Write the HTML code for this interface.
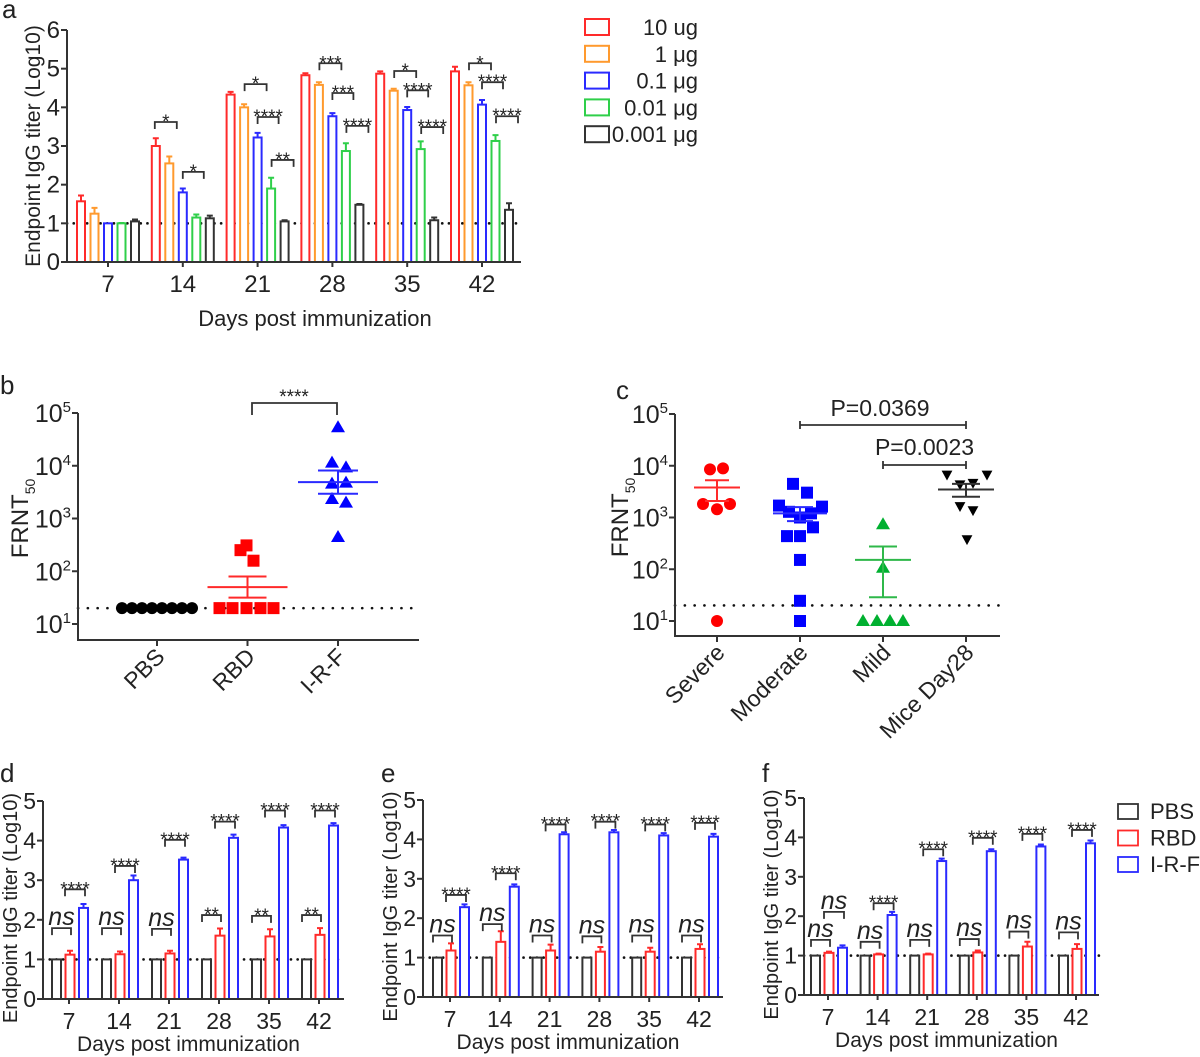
<!DOCTYPE html>
<html><head><meta charset="utf-8">
<style>
html,body{margin:0;padding:0;background:#fff;}
svg{display:block;font-family:"Liberation Sans",Arial,sans-serif;}
</style></head>
<body>
<svg id="fig" width="1200" height="1057" viewBox="0 0 1200 1057"></svg>
<script>
// ---------- Panel a data ----------
const aDays=['7','14','21','28','35','42'];
const aLabels=['10 ug','1 μg','0.1 μg','0.01 μg','0.001 μg'];
const aColors=['#ff2a2a','#ff9a2e','#2a2aff','#2fcf4a','#333333'];
const a10ug=[1.57,3.0,4.33,4.83,4.87,4.93];
const a1ug=[1.25,2.55,4.0,4.58,4.43,4.57];
const a01ug=[1.0,1.8,3.22,3.77,3.93,4.07];
const a001ug=[1.0,1.15,1.9,2.87,2.92,3.13];
const a0001ug=[1.05,1.13,1.05,1.48,1.08,1.35];
const a10ugErr=[0.15,0.2,0.07,0.05,0.06,0.12];
const a1ugErr=[0.15,0.18,0.08,0.07,0.05,0.08];
const a01ugErr=[0,0.1,0.12,0.08,0.08,0.12];
const a001ugErr=[0.01,0.08,0.28,0.2,0.2,0.15];
const a0001ugErr=[0.05,0.07,0.03,0.02,0.07,0.17];
const aYTicks=['0','1','2','3','4','5','6'];
const aBrGroup=[1,1,2,2,2,3,3,3,4,4,4,5,5,5];
const aBrY=[3.62,2.33,4.6,3.75,2.64,5.14,4.37,3.52,4.94,4.44,3.49,5.14,4.65,3.77];
const aBrLabel=['*','*','*','****','**','***','***','****','*','****','****','*','****','****'];
const aBrSlot=[0,2,1,2,3,1,2,3,1,2,3,1,2,3];

// ---------- Panels d,e,f data ----------
const dfDays=['7','14','21','28','35','42'];
const dfNames=['PBS','RBD','I-R-F'];
const dfColors=['#333333','#ff2a2a','#2a2aff'];
const dPBS=[1,1,1,1,1,1];
const dRBD=[1.12,1.13,1.15,1.6,1.58,1.62];
const dRBDErr=[0.1,0.07,0.07,0.18,0.18,0.17];
const dIRF=[2.3,3.0,3.52,4.07,4.33,4.38];
const dIRFErr=[0.1,0.12,0.05,0.08,0.06,0.06];
const dBr1Y=[1.79,1.79,1.77,2.12,2.1,2.12];
const dBr1Label=['ns','ns','ns','**','**','**'];
const dBr2Y=[2.77,3.36,4.02,4.48,4.76,4.76];
const dBr2Label=['****','****','****','****','****','****'];

const ePBS=[1,1,1,1,1,1];
const eRBD=[1.18,1.4,1.18,1.15,1.15,1.22];
const eRBDErr=[0.18,0.27,0.15,0.12,0.1,0.12];
const eIRF=[2.28,2.8,4.13,4.18,4.1,4.07];
const eIRFErr=[0.07,0.06,0.05,0.06,0.06,0.07];
const eBr1Y=[1.56,1.85,1.56,1.54,1.56,1.56];
const eBr1Label=['ns','ns','ns','ns','ns','ns'];
const eBr2Y=[2.59,3.14,4.38,4.45,4.38,4.42];
const eBr2Label=['****','****','****','****','****','****'];

const fPBS=[1,1,1,1,1,1];
const fRBD=[1.07,1.03,1.03,1.08,1.23,1.17];
const fRBDErr=[0.03,0.02,0.02,0.05,0.12,0.12];
const fIRF=[1.2,2.03,3.4,3.65,3.77,3.85];
const fIRFErr=[0.06,0.08,0.06,0.05,0.05,0.07];
const fBr1Y=[1.4,1.35,1.4,1.42,1.61,1.59];
const fBr1Label=['ns','ns','ns','ns','ns','ns'];
const fBr2Y=[2.11,2.33,3.7,3.99,4.09,4.19];
const fBr2Label=['ns','****','****','****','****','****'];
const dfYTicks=['0','1','2','3','4','5'];

// ---------- Panel b data (log10 FRNT50) ----------
const bCats=['PBS','RBD','I-R-F'];
const bPBS=[1.301,1.301,1.301,1.301,1.301,1.301,1.301,1.301];
const bRBD=[1.301,1.301,1.301,1.301,1.301,2.40,2.49,2.20];
const bIRF=[4.73,4.06,3.97,3.66,3.68,3.37,3.30,2.65];
const bRBDMean=[1.70,1.50,1.90];
const bIRFMean=[3.69,3.47,3.91];
const logTicks=['1','2','3','4','5'];

// ---------- Panel c data ----------
const cCats=['Severe','Moderate','Mild','Mice Day28'];
const cSevere=[3.93,3.95,3.26,3.26,3.16,1.0];
const cModerate=[3.65,3.48,3.23,3.21,3.11,3.08,3.00,2.64,2.64,2.81,2.18,1.39,1.0];
const cMild=[2.87,2.03,1.0,1.0,1.0,1.0];
const cMice=[3.82,3.63,3.66,3.82,3.21,3.13,2.57];
const cSevereMean=[3.58,3.32,3.72];
const cModerateMean=[3.08,2.93,3.20];
const cMildMean=[2.18,1.46,2.44];
const cMiceMean=[3.54,3.40,3.65];
const cPvals=['P=0.0369','P=0.0023'];

const bPBSdx=[-35,-25,-15,-5,5,15,25,35];
const bRBDdx=[-28,-15,-1,13,26,-7,-1,6];
const bIRFdx=[0,-6,8,-6,8,-6,8,0];
const cSevDx=[-7,6,-14,13,0,0];
const cModDx=[-7,7,-21,22,-11,11,0,-13,0,13,0,0,0];
const cMildDx=[0,0,-20,-6,7,20];
const cMiceDx=[-19,-6,7,21,-6,7,1];

const NS='http://www.w3.org/2000/svg';
const svg=document.getElementById('fig');
function mk(tag,attrs,parent){const e=document.createElementNS(NS,tag);for(const k in attrs)e.setAttribute(k,attrs[k]);(parent||svg).appendChild(e);return e;}
function txt(x,y,s,size,attrs,parent){const t=mk('text',Object.assign({x:x,y:y,'font-size':size,fill:'#222'},attrs||{}),parent);t.textContent=s;return t;}
const AX='#333';

function panelLabel(x,y,s){
  const t=txt(x,y,s,26,{});
  
  
}

function bracket(g,x1,x2,y,label,size,italic){
  const p=mk('path',{d:`M${x1} ${y+7}V${y}H${x2}V${y+7}`,fill:'none',stroke:AX,'stroke-width':1.8},g);
  
  
  const t=txt((x1+x2)/2,italic?y-3:y+6,label,size,{'text-anchor':'middle','font-style':italic?'italic':'normal'},g);
  
  
}

function barChart(cfg){
  const g=mk('g',{});
  
  
  const y=v=>cfg.y0-(cfg.y0-cfg.yTop)*v/cfg.yMax;
  const x=i=>cfg.gx0+cfg.gdx*i;
  const dl=mk('line',{x1:cfg.axX,x2:cfg.axEnd,y1:y(1),y2:y(1),stroke:'#111','stroke-width':2.6,'stroke-dasharray':'0.1 6.6','stroke-linecap':'round'},g);
  
  
  cfg.series.forEach((s,si)=>{
    s.vals.forEach((v,i)=>{
      const cx=x(i)+cfg.off[si];
      const r=mk('rect',{x:cx-cfg.bw/2,y:y(v),width:cfg.bw,height:cfg.y0-y(v),fill:'#fff',stroke:s.color,'stroke-width':2},g);
      
      
      const e=s.err?s.err[i]:0;
      if(e>0.005){
        const el=mk('path',{d:`M${cx} ${y(v)}V${y(v+e)}M${cx-3} ${y(v+e)}H${cx+3}`,stroke:s.color,'stroke-width':2,fill:'none'},g);
        
        
      }
    });
  });
  const ax=mk('path',{d:`M${cfg.axX} ${cfg.yTop}V${cfg.y0}H${cfg.axEnd}`,fill:'none',stroke:AX,'stroke-width':2},g);
  
  
  cfg.yTicks.forEach((t,i)=>{
    const yy=y(+t);
    mk('line',{x1:cfg.axX-6,x2:cfg.axX,y1:yy,y2:yy,stroke:AX,'stroke-width':2},g);
    const tl=txt(cfg.axX-7,yy+8,t,cfg.tickSize,{'text-anchor':'end'},g);
    
    
  });
  cfg.days.forEach((d,i)=>{
    mk('line',{x1:x(i),x2:x(i),y1:cfg.y0,y2:cfg.y0+5,stroke:AX,'stroke-width':2},g);
    const tl=txt(x(i),cfg.y0+30,d,cfg.tickSize,{'text-anchor':'middle'},g);
    
    
  });
  const xt=txt(cfg.xTitleX,cfg.xTitleY,'Days post immunization',cfg.xTitleSize,{'text-anchor':'middle'},g);
  
  
  const yt=txt(0,0,'Endpoint IgG titer (Log10)',cfg.yTitleSize,{'text-anchor':'middle',transform:`translate(${cfg.yTitleX},${(cfg.y0+cfg.yTop)/2+cfg.yTitleDy}) rotate(-90)`},g);
  
  
  return {g,x,y};
}

// ===== Panel a =====
panelLabel(2,18,'a');
const A=barChart({name:'panel-a-chart',y0:262,yTop:30,yMax:6,gx0:108,gdx:74.8,axX:67,axEnd:521,bw:8,
  off:[-27,-13.5,0,13.5,27],days:aDays,yTicks:aYTicks,tickSize:24,xTitleSize:22,yTitleSize:21,
  xTitleX:315,xTitleY:326,yTitleX:40,yTitleDy:0,
  series:[{key:'10ug',color:aColors[0],vals:a10ug,err:a10ugErr},{key:'1ug',color:aColors[1],vals:a1ug,err:a1ugErr},
    {key:'0.1ug',color:aColors[2],vals:a01ug,err:a01ugErr},{key:'0.01ug',color:aColors[3],vals:a001ug,err:a001ugErr},
    {key:'0.001ug',color:aColors[4],vals:a0001ug,err:a0001ugErr}]});
const aSlotOff=[[-28,-6],[-13,9],[0,21],[14,36]];
aBrGroup.forEach((gi,k)=>{
  const o=aSlotOff[aBrSlot[k]];
  bracket(A.g,A.x(gi)+o[0],A.x(gi)+o[1],A.y(aBrY[k]),aBrLabel[k],19,false);
});
aLabels.forEach((l,i)=>{
  const yy=27+26.8*i;
  const r=mk('rect',{x:585,y:yy-8,width:24,height:16,fill:'#fff',stroke:aColors[i],'stroke-width':2});
  
  
  const t=txt(698,yy+8,l,22,{'text-anchor':'end'});
  
  
});

// ===== d,e,f =====
function dfPanel(name,ox,y0,yTop,gx0,gdx,axEnd,PBS,RBD,RBDe,IRF,IRFe,b1y,b1l,b2y,b2l,ytx){
  const P=barChart({name:name,y0:y0,yTop:yTop,yMax:5,gx0:gx0,gdx:gdx,axX:ox,axEnd:axEnd,bw:9,
    off:[-12.5,1,14.5],days:dfDays,yTicks:dfYTicks,tickSize:23,xTitleSize:21,yTitleSize:20,
    xTitleX:(ox+axEnd)/2-5,xTitleY:y0+52,yTitleX:ytx,yTitleDy:8,
    series:[{key:'pbs',color:dfColors[0],vals:PBS},{key:'rbd',color:dfColors[1],vals:RBD,err:RBDe},{key:'irf',color:dfColors[2],vals:IRF,err:IRFe}]});
  dfDays.forEach((d,i)=>{
    const c=P.x(i);
    bracket(P.g,c-17,c+2,P.y(b1y[i]),b1l[i],b1l[i]==='ns'?25:19,b1l[i]==='ns');
    bracket(P.g,c-4,c+16,P.y(b2y[i]),b2l[i],b2l[i]==='ns'?25:19,b2l[i]==='ns');
  });
}
panelLabel(0,782,'d');
dfPanel('panel-d-chart',43,999,801,69,50,344,dPBS,dRBD,dRBDErr,dIRF,dIRFErr,dBr1Y,dBr1Label,dBr2Y,dBr2Label,17);
panelLabel(381,782,'e');
dfPanel('panel-e-chart',423,997,800,450,49.8,723,ePBS,eRBD,eRBDErr,eIRF,eIRFErr,eBr1Y,eBr1Label,eBr2Y,eBr2Label,397);
panelLabel(762,782,'f');
dfPanel('panel-f-chart',804,995,798,828,49.6,1099,fPBS,fRBD,fRBDErr,fIRF,fIRFErr,fBr1Y,fBr1Label,fBr2Y,fBr2Label,778);
dfNames.forEach((n,i)=>{
  const yy=811+26.5*i;
  const r=mk('rect',{x:1118,y:yy-7,width:20,height:15,fill:'#fff',stroke:dfColors[i],'stroke-width':1.8});
  
  
  const t=txt(1150,yy+8,n,22,{});
  
  
});

// ===== log scatter panels =====
function logAxes(name,axX,axEnd,yBot,y1,y5,cats,cx0,cdx,ytitleX,lineY){
  const g=mk('g',{});
  
  
  const y=v=>y1-(y1-y5)*(v-1)/4;
  const x=i=>cx0+cdx*i;
  const dl=mk('line',{x1:axX,x2:axEnd,y1:y(lineY),y2:y(lineY),stroke:'#111','stroke-width':2.6,'stroke-dasharray':'0.1 9.7','stroke-linecap':'round'},g);
  
  
  const ax=mk('path',{d:`M${axX} ${y5}V${yBot}H${axEnd}`,fill:'none',stroke:AX,'stroke-width':2},g);
  
  
  logTicks.forEach(t=>{
    const yy=y(+t);
    mk('line',{x1:axX-6,x2:axX,y1:yy,y2:yy,stroke:AX,'stroke-width':2},g);
    const tl=mk('text',{x:axX-7,y:yy+9,'font-size':25,'text-anchor':'end',fill:'#222'},g);
    
    
    const t1=mk('tspan',{},tl);t1.textContent='10';
    const t2=mk('tspan',{dy:-10,'font-size':15},tl);t2.textContent=t;
  });
  cats.forEach((c,i)=>{
    mk('line',{x1:x(i),x2:x(i),y1:yBot,y2:yBot+6,stroke:AX,'stroke-width':2},g);
    const tl=txt(0,0,c,23,{'text-anchor':'end',transform:`translate(${x(i)+9},${yBot+18}) rotate(-45)`},g);
    
    
  });
  const yt=mk('text',{'font-size':24,'text-anchor':'middle',fill:'#222',transform:`translate(${ytitleX},${y(3)}) rotate(-90)`},g);
  
  
  const a1=mk('tspan',{},yt);a1.textContent='FRNT';
  const a2=mk('tspan',{dy:7,'font-size':14},yt);a2.textContent='50';
  return {g,x,y};
}
function marker(g,shape,cx,cy,color,sz){
  const s=sz||1;
  let e;
  if(shape==='circle')e=mk('circle',{cx:cx,cy:cy,r:6*s,fill:color},g);
  else if(shape==='square')e=mk('rect',{x:cx-6*s,y:cy-6*s,width:12*s,height:12*s,fill:color},g);
  else if(shape==='tri')e=mk('path',{d:`M${cx} ${cy-7*s}L${cx+7*s} ${cy+5*s}L${cx-7*s} ${cy+5*s}Z`,fill:color},g);
  else e=mk('path',{d:`M${cx} ${cy+6*s}L${cx+6*s} ${cy-5*s}L${cx-6*s} ${cy-5*s}Z`,fill:color},g);
  
  
}
function meanBar(P,i,m,color,hw,cw){
  const cx=P.x(i);
  const e=mk('path',{d:`M${cx-hw} ${P.y(m[0])}H${cx+hw}M${cx-cw} ${P.y(m[1])}H${cx+cw}M${cx-cw} ${P.y(m[2])}H${cx+cw}M${cx} ${P.y(m[1])}V${P.y(m[2])}`,stroke:color,'stroke-width':2,fill:'none'},P.g);
  
  
}

// Panel b
panelLabel(0,394,'b');
const B=logAxes('panel-b-chart',78,419,640,624,413,bCats,157,90.5,28,1.301);
bPBS.forEach((v,k)=>marker(B.g,'circle',B.x(0)+bPBSdx[k],B.y(v),'#000'));
bRBD.forEach((v,k)=>marker(B.g,'square',B.x(1)+bRBDdx[k],B.y(v),'#ff0000'));
bIRF.forEach((v,k)=>marker(B.g,'tri',B.x(2)+bIRFdx[k],B.y(v),'#0000ff'));
meanBar(B,1,bRBDMean,'#ff2a2a',40,19);
meanBar(B,2,bIRFMean,'#2a2aff',40,20);
{const p=mk('path',{d:`M252 415V403H337V415`,fill:'none',stroke:AX,'stroke-width':1.8},B.g);


const t=txt(294,403,'****',19,{'text-anchor':'middle'},B.g);

}

// Panel c
panelLabel(616,399,'c');
const C=logAxes('panel-c-chart',675,1000,636,621,414,cCats,717,83,628,1.301);
cSevere.forEach((v,k)=>marker(C.g,'circle',C.x(0)+cSevDx[k],C.y(v),'#ff0000'));
cModerate.forEach((v,k)=>marker(C.g,'square',C.x(1)+cModDx[k],C.y(v),'#0000ff'));
cMild.forEach((v,k)=>marker(C.g,'tri',C.x(2)+cMildDx[k],C.y(v),'#00b030'));
cMice.forEach((v,k)=>marker(C.g,'dtri',C.x(3)+cMiceDx[k],C.y(v),'#000',0.9));
meanBar(C,0,cSevereMean,'#ff2a2a',23,12);
meanBar(C,1,cModerateMean,'#2a2aff',27,13);
meanBar(C,2,cMildMean,'#2fb84a',28,14);
meanBar(C,3,cMiceMean,'#333',28,14);
[[C.x(1),C.x(3),425,407,0],[C.x(2),C.x(3),465,446,1]].forEach(b=>{
  const p=mk('path',{d:`M${b[0]} ${b[2]-4}V${b[2]+4}M${b[0]} ${b[2]}H${b[1]}M${b[1]} ${b[2]-4}V${b[2]+4}`,fill:'none',stroke:AX,'stroke-width':1.8},C.g);
  
  
  const t=txt((b[0]+b[1])/2+(b[4]?0:-3),b[3]+9,cPvals[b[4]],23,{'text-anchor':'middle'},C.g);
  
  
});
</script>
</body></html>
